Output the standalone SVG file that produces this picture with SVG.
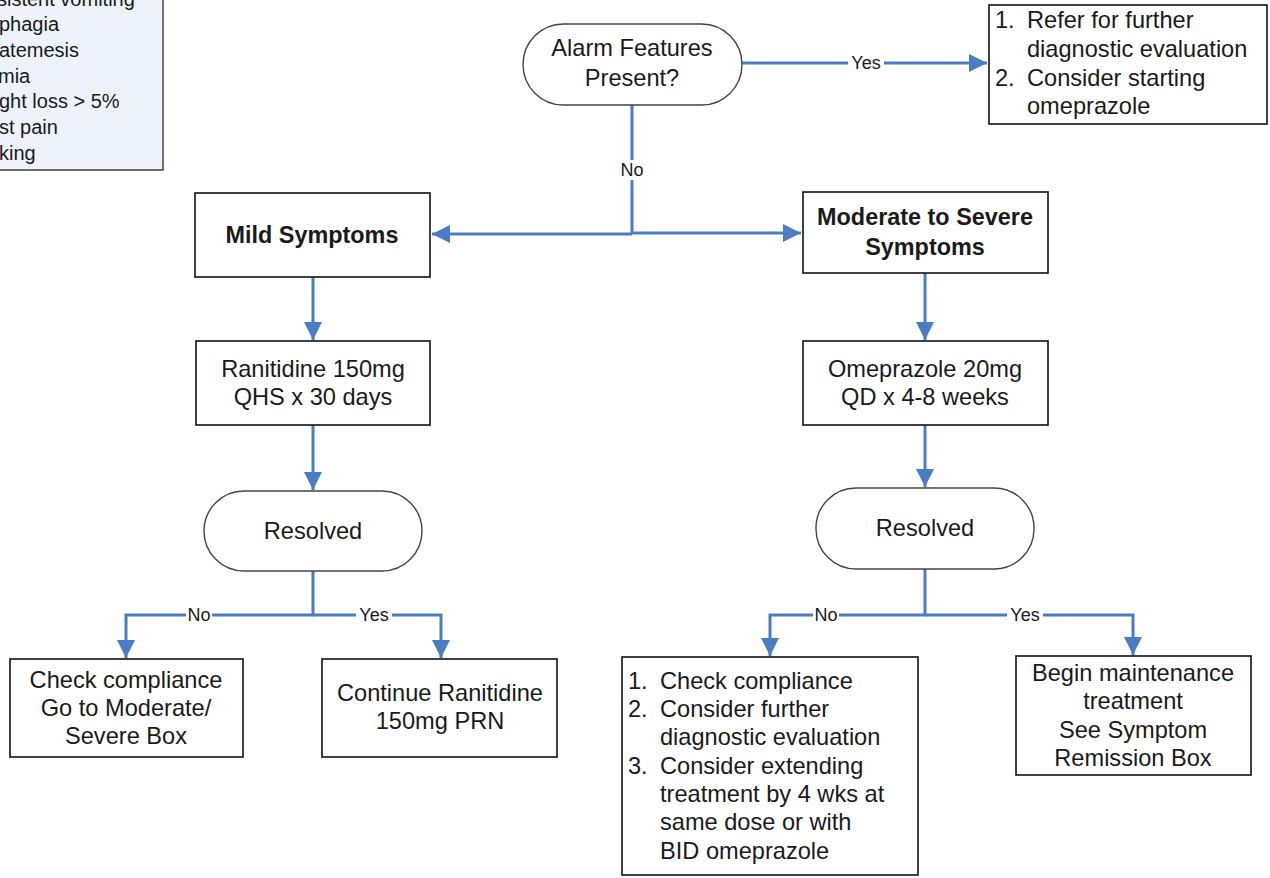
<svg xmlns="http://www.w3.org/2000/svg" width="1270" height="878" viewBox="0 0 1270 878">
<defs>
<style>
.t{font-family:"Liberation Sans",Arial,sans-serif;font-size:23.6px;fill:#1a1a1a}
.c{text-anchor:middle}
.b{font-weight:bold;font-size:23.4px}
.box{fill:#fff;stroke:#111;stroke-width:1.6}
.term{fill:#fff;stroke:#444;stroke-width:1.4}
.ln{fill:none;stroke:#4A7DC4;stroke-width:3}
.lb{font-family:"Liberation Sans",Arial,sans-serif;font-size:18px;fill:#1a1a1a;text-anchor:middle}
.lbg{fill:#fff}
.side{font-family:"Liberation Sans",Arial,sans-serif;font-size:20px;fill:#1a1a1a}
</style>
<marker id="ah" markerUnits="userSpaceOnUse" markerWidth="18" markerHeight="18" viewBox="0 0 18 18" refX="18" refY="9" orient="auto">
<path d="M0,0 L18,9 L0,18 Z" fill="#4A7DC4"/>
</marker>
</defs>
<rect width="1270" height="878" fill="#fff"/>

<g id="alarm-list">
<rect x="-10" y="-10" width="173" height="180" fill="#EEF2FA" stroke="#333" stroke-width="1.4"/>
<text class="side" x="-3" y="6">sistent vomiting</text>
<text class="side" x="-1" y="31">phagia</text>
<text class="side" x="-1" y="57">atemesis</text>
<text class="side" x="-2" y="83">mia</text>
<text class="side" x="-1" y="108">ght loss &gt; 5%</text>
<text class="side" x="-1" y="134">st pain</text>
<text class="side" x="-1" y="160">king</text>
</g>

<g id="connectors">
<path class="ln" d="M742,63 H987" marker-end="url(#ah)"/>
<path class="ln" d="M632,105 V234"/>
<path class="ln" d="M632,234 H432" marker-end="url(#ah)"/>
<path class="ln" d="M632,233 H801" marker-end="url(#ah)"/>
<path class="ln" d="M313,277 V340" marker-end="url(#ah)"/>
<path class="ln" d="M925,273 V340" marker-end="url(#ah)"/>
<path class="ln" d="M313,425 V490" marker-end="url(#ah)"/>
<path class="ln" d="M925,425 V487" marker-end="url(#ah)"/>
<path class="ln" d="M313,571 V615 H126 V658" marker-end="url(#ah)"/>
<path class="ln" d="M313,615 H441 V658" marker-end="url(#ah)"/>
<path class="ln" d="M925,569 V615 H770 V656" marker-end="url(#ah)"/>
<path class="ln" d="M925,615 H1133 V655" marker-end="url(#ah)"/>
<rect class="lbg" x="848" y="53" width="36" height="20"/>
<text class="lb" x="866" y="69">Yes</text>
<rect class="lbg" x="619" y="160" width="26" height="20"/>
<text class="lb" x="632" y="176">No</text>
<rect class="lbg" x="186" y="605" width="26" height="20"/>
<text class="lb" x="199" y="621">No</text>
<rect class="lbg" x="356" y="605" width="36" height="20"/>
<text class="lb" x="374" y="621">Yes</text>
<rect class="lbg" x="813" y="605" width="26" height="20"/>
<text class="lb" x="826" y="621">No</text>
<rect class="lbg" x="1007" y="605" width="36" height="20"/>
<text class="lb" x="1025" y="621">Yes</text>
</g>

<g id="alarm">
<rect class="term" x="523" y="24" width="219" height="81" rx="40.5"/>
<text class="t c" x="632" y="56">Alarm Features</text>
<text class="t c" x="632" y="86">Present?</text>
</g>

<g id="refer">
<rect class="box" x="989" y="5" width="278" height="119"/>
<text class="t" x="995" y="28">1.</text>
<text class="t" x="1027" y="28">Refer for further</text>
<text class="t" x="1027" y="57">diagnostic evaluation</text>
<text class="t" x="995" y="86">2.</text>
<text class="t" x="1027" y="86">Consider starting</text>
<text class="t" x="1027" y="114">omeprazole</text>
</g>

<g id="mild">
<rect class="box" x="195" y="193" width="235" height="84"/>
<text class="t c b" x="312" y="243">Mild Symptoms</text>
</g>

<g id="moderate">
<rect class="box" x="803" y="192" width="245" height="81"/>
<text class="t c b" x="925" y="225">Moderate to Severe</text>
<text class="t c b" x="925" y="255">Symptoms</text>
</g>

<g id="ranitidine">
<rect class="box" x="196" y="341" width="234" height="84"/>
<text class="t c" x="313" y="377">Ranitidine 150mg</text>
<text class="t c" x="313" y="405">QHS x 30 days</text>
</g>

<g id="omeprazole">
<rect class="box" x="803" y="341" width="245" height="84"/>
<text class="t c" x="925" y="377">Omeprazole 20mg</text>
<text class="t c" x="925" y="405">QD x 4-8 weeks</text>
</g>

<g id="resolved-left">
<rect class="term" x="204" y="491" width="218" height="80" rx="40"/>
<text class="t c" x="313" y="539">Resolved</text>
</g>

<g id="resolved-right">
<rect class="term" x="816" y="488" width="218" height="81" rx="40"/>
<text class="t c" x="925" y="536">Resolved</text>
</g>

<g id="check-compliance">
<rect class="box" x="10" y="659" width="233" height="98"/>
<text class="t c" x="126" y="688">Check compliance</text>
<text class="t c" x="126" y="716">Go to Moderate/</text>
<text class="t c" x="126" y="744">Severe Box</text>
</g>

<g id="continue">
<rect class="box" x="322" y="659" width="235" height="98"/>
<text class="t c" x="440" y="701">Continue Ranitidine</text>
<text class="t c" x="440" y="729">150mg PRN</text>
</g>

<g id="next-steps">
<rect class="box" x="622" y="657" width="296" height="218"/>
<text class="t" x="628" y="689">1.</text>
<text class="t" x="660" y="689">Check compliance</text>
<text class="t" x="628" y="717">2.</text>
<text class="t" x="660" y="717">Consider further</text>
<text class="t" x="660" y="745">diagnostic evaluation</text>
<text class="t" x="628" y="774">3.</text>
<text class="t" x="660" y="774">Consider extending</text>
<text class="t" x="660" y="802">treatment by 4 wks at</text>
<text class="t" x="660" y="830">same dose or with</text>
<text class="t" x="660" y="859">BID omeprazole</text>
</g>

<g id="maintenance">
<rect class="box" x="1016" y="656" width="235" height="119"/>
<text class="t c" x="1133" y="681">Begin maintenance</text>
<text class="t c" x="1133" y="709">treatment</text>
<text class="t c" x="1133" y="738">See Symptom</text>
<text class="t c" x="1133" y="766">Remission Box</text>
</g>
</svg>
